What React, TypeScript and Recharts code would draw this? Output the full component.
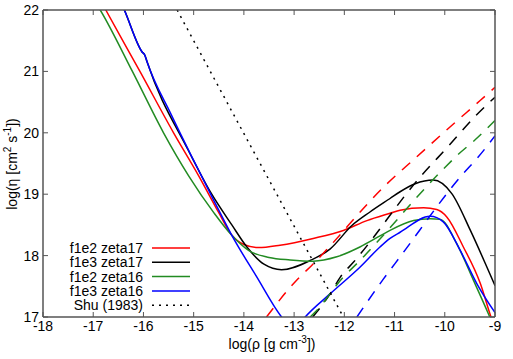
import { LineChart, Line, XAxis, YAxis, Legend } from 'recharts'

const xTicks = [-18, -17, -16, -15, -14, -13, -12, -11, -10, -9]
const yTicks = [17, 18, 19, 20, 21, 22]

// solid curves: log rho -> log eta
const redX = [-16.85, -16.75, -16.07, -15.4, -14.9, -14.5, -14.24, -14.0, -13.71, -13.28, -12.62, -12.02, -11.55, -11.09, -10.89, -10.42, -10.16, -9.96, -9.63, -9.29, -9.1, -9.0]
const redY = [22.15, 22.0, 21.0, 20.0, 19.3, 18.7, 18.33, 18.18, 18.13, 18.17, 18.28, 18.41, 18.57, 18.69, 18.74, 18.78, 18.75, 18.63, 18.14, 17.54, 17.05, 16.8]

const blackX = [-16.45, -16.38, -16.03, -15.97, -15.93, -15.11, -14.64, -14.24, -13.94, -13.6, -13.25, -12.68, -12.28, -11.85, -11.49, -11.09, -10.89, -10.59, -10.23, -9.86, -9.49, -9.16, -9.0]
const blackY = [22.13, 22.0, 21.32, 21.26, 21.16, 19.72, 19.0, 18.5, 18.14, 17.86, 17.77, 17.92, 18.11, 18.49, 18.71, 18.93, 19.04, 19.17, 19.23, 19.01, 18.41, 17.81, 17.51]

const greenX = [-16.95, -16.86, -16.22, -15.6, -15.1, -14.6, -14.24, -13.9, -13.5, -13.08, -12.62, -12.15, -11.69, -11.29, -11.09, -10.62, -10.29, -10.09, -9.76, -9.43, -9.13, -9.0]
const greenY = [22.12, 22.0, 21.0, 20.0, 19.3, 18.7, 18.33, 18.08, 17.97, 17.93, 17.91, 17.98, 18.14, 18.32, 18.41, 18.57, 18.6, 18.59, 18.19, 17.6, 17.05, 16.8]

const blueX = [-16.45, -16.38, -16.03, -15.97, -15.93, -15.45, -15.0, -14.6, -14.24, -13.75, -13.25, -13.0, -12.78, -12.28, -11.69, -11.29, -11.09, -10.89, -10.29, -10.03, -9.69, -9.36, -9.0]
const blueY = [22.13, 22.0, 21.32, 21.26, 21.16, 20.3, 19.55, 18.9, 18.33, 17.66, 17.0, 16.78, 17.0, 17.38, 17.81, 18.14, 18.28, 18.38, 18.64, 18.55, 18.08, 17.54, 17.07]

// dashed curves
const redDashX = [-13.55, -12.95, -12.65, -11.15, -10.57, -9.93, -9.29, -9.0]
const redDashY = [17.0, 17.6, 17.84, 19.17, 19.6, 20.07, 20.53, 20.74]
const blackDashX = [-12.63, -12.28, -12.08, -11.82, -10.49, -9.93, -9.37, -9.0]
const blackDashY = [17.0, 17.38, 17.65, 17.89, 19.28, 19.78, 20.29, 20.58]
const greenDashX = [-12.68, -12.58, -12.02, -11.75, -10.04, -9.73, -9.39, -9.0]
const greenDashY = [17.0, 17.08, 17.65, 17.87, 19.4, 19.65, 19.89, 20.2]
const blueDashX = [-11.75, -11.22, -10.89, -9.66, -9.33, -9.0]
const blueDashY = [17.0, 17.62, 17.98, 19.31, 19.61, 19.95]

// Shu (1983)
const shuX = [-15.33, -13.81, -12.02]
const shuY = [22.0, 19.7, 17.0]

const pts = (xs: number[], ys: number[]) => xs.map((x, i) => ({ x, y: ys[i] }))

const RED = '#ff0000'
const BLACK = '#000000'
const GREEN = '#228b22'
const BLUE = '#0000ff'
const FRAME = '#555555'
const FONT = '"Liberation Sans", Arial, sans-serif'

const solid = [
  { name: 'f1e2 zeta17', color: RED, data: pts(redX, redY) },
  { name: 'f1e3 zeta17', color: BLACK, data: pts(blackX, blackY) },
  { name: 'f1e2 zeta16', color: GREEN, data: pts(greenX, greenY) },
  { name: 'f1e3 zeta16', color: BLUE, data: pts(blueX, blueY) },
]

const dashed = [
  { color: RED, data: pts(redDashX, redDashY) },
  { color: BLACK, data: pts(blackDashX, blackDashY) },
  { color: GREEN, data: pts(greenDashX, greenDashY) },
  { color: BLUE, data: pts(blueDashX, blueDashY) },
]

const legendRows = [
  ...solid.map((s) => ({ name: s.name, color: s.color, dash: undefined as string | undefined })),
  { name: 'Shu (1983)', color: BLACK, dash: '2 5' },
]

const BottomTick = (p: any) => (
  <g>
    <line x1={p.x} x2={p.x} y1={p.y} y2={p.y - 5} stroke={FRAME} />
    <text x={p.x} y={p.y + 14} textAnchor="middle" fontSize={14} fontFamily={FONT} fill="#000">
      {p.payload.value}
    </text>
  </g>
)
const TopTick = (p: any) => <line x1={p.x} x2={p.x} y1={p.y} y2={p.y + 5} stroke={FRAME} />
const LeftTick = (p: any) => (
  <g>
    <line x1={p.x} x2={p.x + 5} y1={p.y} y2={p.y} stroke={FRAME} />
    <text x={p.x - 4} y={p.y + 5} textAnchor="end" fontSize={14} fontFamily={FONT} fill="#000">
      {p.payload.value}
    </text>
  </g>
)
const RightTick = (p: any) => <line x1={p.x} x2={p.x - 5} y1={p.y} y2={p.y} stroke={FRAME} />

function LegendBox() {
  return (
    <svg width={200} height={76} style={{ display: 'block' }}>
      {legendRows.map((r, i) => {
        const cy = 8 + i * 14.3
        return (
          <g key={r.name}>
            <text x={143} y={cy + 5} textAnchor="end" fontSize={14} fontFamily={FONT} fill="#000">
              {r.name}
            </text>
            <line x1={152} x2={190} y1={cy} y2={cy} stroke={r.color} strokeWidth={1.5} strokeDasharray={r.dash} />
          </g>
        )
      })}
    </svg>
  )
}

export default function App() {
  return (
    <div style={{ position: 'absolute', left: 0, top: 0, width: 513, height: 359, background: '#fff' }}>
      <LineChart width={513} height={359} margin={{ top: 0, right: 0, bottom: 0, left: 0 }}>
        <XAxis
          xAxisId="b" type="number" dataKey="x" domain={[-18, -9]} ticks={xTicks} allowDataOverflow
          height={42} tickSize={0} tickMargin={0} tick={BottomTick} stroke={FRAME} strokeWidth={1.5}
          label={{
            position: 'insideBottom',
            content: () => (
              <text x={272} y={349} textAnchor="middle" fontSize={14} fontFamily={FONT} fill="#000">
                log(ρ [g cm<tspan dy={-6} fontSize={10}>-3</tspan><tspan dy={6}>])</tspan>
              </text>
            ),
          }}
        />
        <XAxis
          xAxisId="t" orientation="top" type="number" dataKey="x" domain={[-18, -9]} ticks={xTicks}
          allowDataOverflow height={10} tickSize={0} tickMargin={0} tick={TopTick} stroke={FRAME} strokeWidth={1.5}
        />
        <YAxis
          yAxisId="l" type="number" domain={[17, 22]} ticks={yTicks} allowDataOverflow width={43}
          tickSize={0} tickMargin={0} tick={LeftTick} stroke={FRAME} strokeWidth={1.5}
          label={{
            position: 'insideLeft',
            content: () => (
              <text x={17} y={164} transform="rotate(-90 17 164)" textAnchor="middle" fontSize={14} fontFamily={FONT} fill="#000">
                log(η [cm<tspan dy={-6} fontSize={10}>2</tspan><tspan dy={6}> s</tspan>
                <tspan dy={-6} fontSize={10}>-1</tspan><tspan dy={6}>])</tspan>
              </text>
            ),
          }}
        />
        <YAxis
          yAxisId="r" orientation="right" type="number" domain={[17, 22]} ticks={yTicks} allowDataOverflow
          width={18} tickSize={0} tickMargin={0} tick={RightTick} stroke={FRAME} strokeWidth={1.5}
        />
        <Legend
          layout="vertical" align="center" verticalAlign="middle"
          wrapperStyle={{ left: 0, top: 240, width: 200 }}
          content={() => <LegendBox />}
        />
        {solid.map((s) => (
          <Line
            key={s.name} xAxisId="b" yAxisId="l" data={s.data} dataKey="y" name={s.name} type="monotone"
            stroke={s.color} strokeWidth={1.5} dot={false} isAnimationActive={false}
          />
        ))}
        {dashed.map((s, i) => (
          <Line
            key={'d' + i} xAxisId="b" yAxisId="l" data={s.data} dataKey="y" type="monotone"
            stroke={s.color} strokeWidth={1.5} strokeDasharray="11 9" dot={false} legendType="none"
            isAnimationActive={false}
          />
        ))}
        <Line
          xAxisId="b" yAxisId="l" data={pts(shuX, shuY)} dataKey="y" name="Shu (1983)" type="linear"
          stroke={BLACK} strokeWidth={1.5} strokeDasharray="2 5" dot={false} isAnimationActive={false}
        />
      </LineChart>
    </div>
  )
}
